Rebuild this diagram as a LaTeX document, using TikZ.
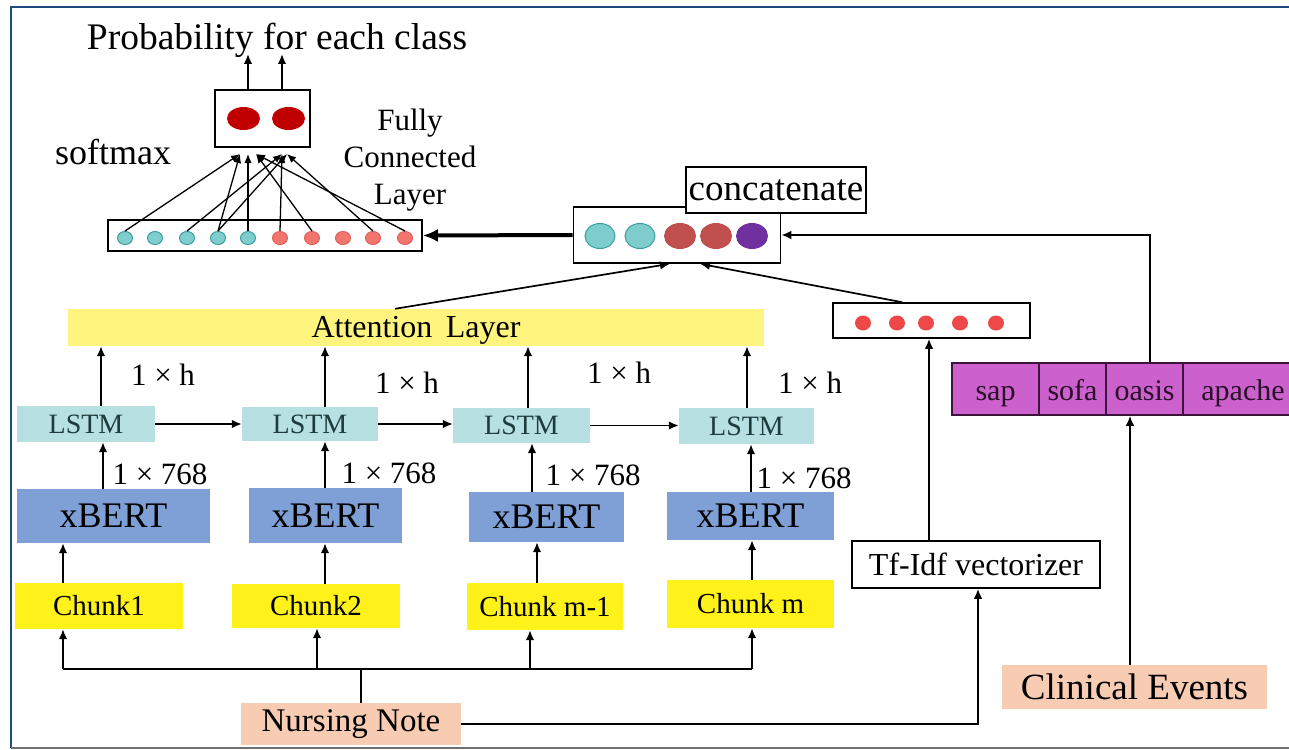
\documentclass[tikz,border=0pt]{standalone}
\usepackage{fontspec}
\setmainfont{Liberation Serif}
\usetikzlibrary{arrows.meta,shapes.geometric}

\definecolor{frameblue}{HTML}{1F497D}
\definecolor{framegray}{HTML}{707070}
\definecolor{lstmc}{HTML}{B6E0E2}
\definecolor{lstmt}{HTML}{1E3C3C}
\definecolor{bertc}{HTML}{7EA0D7}
\definecolor{chunkc}{HTML}{FFF21A}
\definecolor{attc}{HTML}{FFF47E}
\definecolor{peach}{HTML}{F8CBB3}
\definecolor{barc}{HTML}{CC60CC}
\definecolor{bard}{HTML}{3A143A}
\definecolor{smred}{HTML}{C00000}
\definecolor{tealc}{HTML}{7FCDCD}
\definecolor{teald}{HTML}{3A9E9E}
\definecolor{salmc}{HTML}{F3766E}
\definecolor{salmd}{HTML}{E0605A}
\definecolor{brownc}{HTML}{C0504D}
\definecolor{purpc}{HTML}{7030A0}
\definecolor{dotred}{HTML}{EF4848}

\tikzset{
  arr/.style={-{Latex[length=10pt,width=8.5pt]}, line width=1.7pt},
  thinarr/.style={-{Latex[length=9pt,width=7.5pt]}, line width=1.3pt},
  wire/.style={line width=1.7pt},
  framed/.style={draw, line width=1.6pt, fill=white, inner sep=0pt},
  flat/.style={inner sep=0pt},
  cell/.style={flat, fill=barc, draw=bard, line width=1.5pt, minimum height=52,
    text height=24pt, text depth=2pt, text=bard!70!black, fs=30},
  dot/.style={ellipse, inner sep=0pt, line width=1pt},
  fs/.style={font=\fontsize{#1}{#1}\selectfont},
}

\begin{document}
\begin{tikzpicture}[x=1pt,y=-1pt]
\useasboundingbox (0,0) rectangle (1289,749);
\clip (0,0) rectangle (1289,749);
\fill[white] (0,0) rectangle (1289,749);

% outer frame
\draw[line width=2.2pt, frameblue] (1300,7) -- (11,7) -- (11,748);
\draw[line width=1.5pt, framegray] (11,748) -- (1300,748);

% ---------- output (softmax) ----------
\node[framed, minimum width=95, minimum height=57] (sm) at (262.5,118.5) {};
\node[dot, fill=smred, minimum width=33, minimum height=23] (o1) at (243.5,118.5) {};
\node[dot, fill=smred, minimum width=33, minimum height=23] (o2) at (288.5,118.5) {};
\node[fs=37.5] (title) at (277,40) {Probability for each class};
\coordinate (up1) at (248,54);
\coordinate (up2) at (282,54);
\draw[arr] (sm.north -| up1) -- (up1);
\draw[arr] (sm.north -| up2) -- (up2);
\node[fs=36] (smlbl) at (113,152) {softmax};
\node[align=center, font=\fontsize{31}{37}\selectfont] (fclbl) at (410,160) {Fully\\Connected\\Layer};

% ---------- fully connected vector ----------
\node[framed, minimum width=314, minimum height=31] (fc) at (265,235.5) {};
\foreach \i/\x in {1/125,2/155,3/187,4/218,5/248}
  \node[dot, fill=tealc, draw=teald, minimum width=15, minimum height=13] (f\i) at (\x,238) {};
\foreach \i/\x in {6/280,7/312,8/343,9/373,10/405}
  \node[dot, fill=salmc, draw=salmd, minimum width=15, minimum height=13] (f\i) at (\x,238) {};

\coordinate (tA) at (240,154);
\coordinate (tB) at (248,154);
\coordinate (tC) at (256,154);
\coordinate (tD) at (282,154);
\coordinate (tE) at (287,154);
\draw[thinarr] (f1.north) -- (tA);
\draw[thinarr] (f3.north) -- (tD);
\draw[thinarr] (f4.north) -- (tA);
\draw[thinarr] (f4.north) -- (tE);
\draw[thinarr] (f5.north) -- (tB);
\draw[thinarr] (f6.north) -- (tD);
\draw[thinarr] (f7.north) -- (tC);
\draw[thinarr] (f9.north) -- (tE);
\draw[thinarr] (f10.north) -- (tC);

% ---------- concatenation ----------
\node[framed, minimum width=207, minimum height=56] (cc) at (677,235) {};
\node[dot, fill=tealc, draw=teald, minimum width=30, minimum height=25] (c1) at (600,236) {};
\node[dot, fill=tealc, draw=teald, minimum width=30, minimum height=25] (c2) at (640,236) {};
\node[dot, fill=brownc, minimum width=32, minimum height=26] (c3) at (680,236) {};
\node[dot, fill=brownc, minimum width=32, minimum height=26] (c4) at (716,236) {};
\node[dot, fill=purpc, minimum width=32, minimum height=26] (c5) at (752,236) {};
\node[framed, minimum width=180, minimum height=46, fs=37] (cclbl) at (776,190) {concatenate};
\draw[-{Latex[length=15pt,width=13pt]}, line width=4pt] (cc.west) -- (fc.east);

% ---------- attention ----------
\node[flat, fill=attc, minimum width=696, minimum height=37, fs=32,
      text height=22pt, text depth=2pt] (att) at (416,327.5) {Attention\, Layer};
\draw[arr] ([xshift=-21]att.north) -- ([xshift=-7]cc.south);

% ---------- tf-idf branch ----------
\node[framed, minimum width=197, minimum height=35] (db) at (931.5,320.5) {};
\foreach \i/\x in {1/863,2/897,3/926,4/960,5/996}
  \node[dot, fill=dotred, minimum width=16, minimum height=15] (d\i) at (\x,323) {};
\draw[arr] ([xshift=-29.5]db.north) -- ([xshift=23]cc.south);

\node[framed, minimum width=248, minimum height=47, fs=32] (tf) at (976,564.5) {Tf-Idf vectorizer};
\coordinate (ktf) at (929,0);
\draw[arr] (tf.north -| ktf) -- (db.south -| ktf);

% ---------- clinical scores ----------
\node[cell, minimum width=87] (sap) at (995.5,389) {sap};
\node[cell, minimum width=67] (sofa) at (1072.5,389) {sofa};
\node[cell, minimum width=77] (oasis) at (1144.5,389) {oasis};
\node[cell, minimum width=120] (apache) at (1243,389) {apache};
\coordinate (kbar) at (1150,0);
\draw[arr] (oasis.north -| kbar) |- (cc.east);

\node[flat, fill=peach, minimum width=265, minimum height=44, fs=37] (ce) at (1134.5,687) {Clinical Events};
\coordinate (kce) at (1130,0);
\draw[arr] (ce.north -| kce) -- (oasis.south -| kce);

% ---------- note branch ----------
\node[flat, fill=peach, minimum width=220, minimum height=42, fs=33] (nn) at (351,724) {Nursing Note};

\node[flat, fill=chunkc, minimum width=168, minimum height=46, fs=29] (ch1) at (99,606) {Chunk1};
\node[flat, fill=chunkc, minimum width=168, minimum height=44, fs=29] (ch2) at (316,606) {Chunk2};
\node[flat, fill=chunkc, minimum width=156, minimum height=47, fs=29] (ch3) at (545,606.5) {Chunk m-1};
\node[flat, fill=chunkc, minimum width=167, minimum height=48, fs=29] (ch4) at (750.5,604) {Chunk m};

\node[flat, fill=bertc, minimum width=193, minimum height=54, fs=36] (xb1) at (113.5,516) {xBERT};
\node[flat, fill=bertc, minimum width=153, minimum height=55, fs=36] (xb2) at (325.5,515.5) {xBERT};
\node[flat, fill=bertc, minimum width=155, minimum height=50, fs=36] (xb3) at (546.5,517) {xBERT};
\node[flat, fill=bertc, minimum width=167, minimum height=48, fs=36] (xb4) at (750.5,516) {xBERT};

\node[flat, fill=lstmc, text=lstmt, minimum width=138, minimum height=36, fs=28] (l1) at (86,424) {LSTM};
\node[flat, fill=lstmc, text=lstmt, minimum width=136, minimum height=34, fs=28] (l2) at (310,424) {LSTM};
\node[flat, fill=lstmc, text=lstmt, minimum width=137, minimum height=35, fs=28] (l3) at (521.5,425.5) {LSTM};
\node[flat, fill=lstmc, text=lstmt, minimum width=135, minimum height=36, fs=28] (l4) at (746.5,426) {LSTM};

% dimension labels
\node[fs=31] (h1) at (163,375) {1 × h};
\node[fs=31] (h2) at (407,383) {1 × h};
\node[fs=31] (h3) at (619,373) {1 × h};
\node[fs=31] (h4) at (810,383) {1 × h};
\node[fs=31] (e1) at (160,474) {1 × 768};
\node[fs=31] (e2) at (389,473) {1 × 768};
\node[fs=31] (e3) at (593,475) {1 × 768};
\node[fs=31] (e4) at (804,478) {1 × 768};

% note fan-out bus
\coordinate (busL) at (63,669);
\coordinate (busR) at (752,669);
\coordinate (knn) at (361,0);
\draw[wire] (nn.north -| knn) -- (busL -| knn);
\draw[wire] (busL) -- (busR);
\coordinate (k2) at (317,0);
\coordinate (k3) at (530,0);
\draw[arr] (busL) -- (busL |- ch1.south);
\draw[arr] (busL -| k2) -- (ch2.south -| k2);
\draw[arr] (busL -| k3) -- (ch3.south -| k3);
\draw[arr] (busR) -- (busR |- ch4.south);
\coordinate (ktfin) at (978,0);
\draw[arr] (nn.east) -| (tf.south -| ktfin);

% chunk -> xBERT
\foreach \c/\x in {1/63,2/325,3/537,4/752}{
  \coordinate (q) at (\x,0);
  \draw[arr] (ch\c.north -| q) -- (xb\c.south -| q);
}
% xBERT -> LSTM
\foreach \c/\x in {1/103,2/325,3/532,4/751}{
  \coordinate (q) at (\x,0);
  \draw[arr] (xb\c.north -| q) -- (l\c.south -| q);
}
% LSTM -> attention
\foreach \c/\x in {1/101,2/325,3/528,4/747}{
  \coordinate (q) at (\x,0);
  \draw[arr] (l\c.north -| q) -- (att.south -| q);
}
% recurrent links
\draw[arr] (l1.east) -- (l1.east -| l2.west);
\draw[arr] (l2.east) -- (l2.east -| l3.west);
\draw[arr] (l3.east) -- (l3.east -| l4.west);
\end{tikzpicture}
\end{document}
